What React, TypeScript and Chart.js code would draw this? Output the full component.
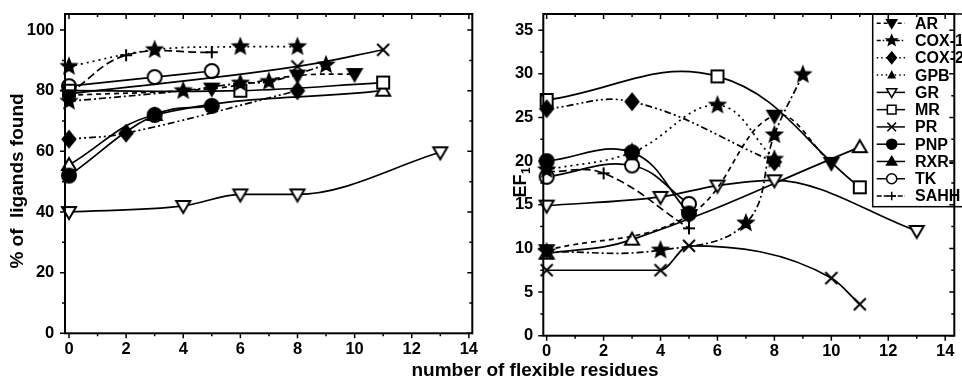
import React, { useEffect, useRef } from 'react';
import { Chart, registerables } from 'chart.js';

Chart.register(...registerables);

const FONT = '"Liberation Sans", Arial, Helvetica, sans-serif';

// ---------- series names ----------
const SERIES = ['AR', 'COX-1', 'COX-2', 'GPB', 'GR', 'MR', 'PR', 'PNP', 'RXR-', 'TK', 'SAHH'];

// ---------- x values: number of flexible residues ----------
const AR_X = [0, 5, 8, 10];
const COX1_X_PCT = [0, 4, 6, 7, 9];
const COX1_X_EF = [0, 4, 7, 8, 9];
const COX2_X_PCT = [0, 2, 8];
const COX2_X_EF = [0, 3, 8];
const GPB_X = [0, 3, 6, 8];
const GR_X = [0, 4, 6, 8, 13];
const MR_X = [0, 6, 11];
const PR_X_PCT = [0, 8, 11];
const PR_X_EF = [0, 4, 5, 10, 11];
const PNP_X = [0, 3, 5];
const RXR_X = [0, 3, 11];
const TK_X = [0, 3, 5];
const SAHH_X = [0, 2, 5];

// ---------- left panel: % of ligands found ----------
const AR_PCT = [78.5, 80.7, 85, 85.5];
const COX1_PCT = [76.5, 80, 82.5, 83, 88.5];
const COX2_PCT = [64, 66, 80];
const GPB_PCT = [88, 93.5, 94.5, 94.5];
const GR_PCT = [40, 42, 45.8, 45.8, 59.7];
const MR_PCT = [80, 80, 82.7];
const PR_PCT = [79, 88, 93.5];
const PNP_PCT = [52, 72, 75];
const RXR_PCT = [55.5, 72, 80];
const TK_PCT = [81.5, 84.5, 86.5];
const SAHH_PCT = [79, 91.7, 92.7];

// ---------- right panel: EF1 ----------
const AR_EF = [9.8, 13.8, 25.2, 19.8];
const COX1_EF = [9.6, 9.8, 12.9, 23, 29.9];
const COX2_EF = [26, 26.8, 19.9];
const GPB_EF = [19, 21, 26.4, 20.2];
const GR_EF = [14.9, 15.9, 17.2, 17.8, 12];
const MR_EF = [27, 29.7, 17];
const PR_EF = [7.5, 7.5, 10.3, 6.6, 3.6];
const PNP_EF = [20, 21, 14];
const RXR_EF = [9.4, 11, 21.6];
const TK_EF = [18.2, 19.5, 15.1];
const SAHH_EF = [18.8, 18.6, 12.3];

// ---------- tick labels ----------
const X_TICKS = [0, 2, 4, 6, 8, 10, 12, 14];
const PCT_TICKS = [0, 20, 40, 60, 80, 100];
const EF_TICKS = [0, 5, 10, 15, 20, 25, 30, 35];

const PCT_SETS: [number[], number[]][] = [
  [AR_X, AR_PCT], [COX1_X_PCT, COX1_PCT], [COX2_X_PCT, COX2_PCT], [GPB_X, GPB_PCT],
  [GR_X, GR_PCT], [MR_X, MR_PCT], [PR_X_PCT, PR_PCT], [PNP_X, PNP_PCT],
  [RXR_X, RXR_PCT], [TK_X, TK_PCT], [SAHH_X, SAHH_PCT],
];
const EF_SETS: [number[], number[]][] = [
  [AR_X, AR_EF], [COX1_X_EF, COX1_EF], [COX2_X_EF, COX2_EF], [GPB_X, GPB_EF],
  [GR_X, GR_EF], [MR_X, MR_EF], [PR_X_EF, PR_EF], [PNP_X, PNP_EF],
  [RXR_X, RXR_EF], [TK_X, TK_EF], [SAHH_X, SAHH_EF],
];

type Kind = 'triDown' | 'triUp' | 'smallTri' | 'star' | 'diamond' | 'square' | 'cross' | 'circle' | 'plus';
interface Style { dash: number[]; legendDash: number[]; kind: Kind; filled: boolean; legendKind?: Kind; legendFilled?: boolean; mono?: boolean; }

const STYLES: Style[] = [
  { dash: [5, 4], legendDash: [4, 3], kind: 'triDown', filled: true },
  { dash: [7, 3, 2, 3], legendDash: [4, 2, 1.5, 2], kind: 'star', filled: true },
  { dash: [7, 3, 2, 3, 2, 3], legendDash: [1.5, 3], kind: 'diamond', filled: true },
  { dash: [2, 4], legendDash: [1.5, 3], kind: 'star', filled: true, legendKind: 'smallTri' },
  { dash: [], legendDash: [], kind: 'triDown', filled: false, mono: true },
  { dash: [], legendDash: [], kind: 'square', filled: false },
  { dash: [], legendDash: [], kind: 'cross', filled: false, mono: true },
  { dash: [], legendDash: [], kind: 'circle', filled: true },
  { dash: [], legendDash: [], kind: 'triUp', filled: false, legendFilled: true },
  { dash: [], legendDash: [], kind: 'circle', filled: false },
  { dash: [8, 4], legendDash: [5, 2], kind: 'plus', filled: false },
];

function drawMarker(ctx: CanvasRenderingContext2D, kind: Kind, filled: boolean, cx: number, cy: number, s: number) {
  ctx.save();
  ctx.setLineDash([]);
  ctx.beginPath();
  ctx.lineWidth = s < 1 ? 1.5 : 2;
  ctx.strokeStyle = '#000';
  ctx.fillStyle = filled ? '#000' : '#fff';
  ctx.lineJoin = 'miter';
  let strokeOnly = false;
  switch (kind) {
    case 'triDown':
      ctx.moveTo(cx - 7 * s, cy - 5 * s); ctx.lineTo(cx + 7 * s, cy - 5 * s); ctx.lineTo(cx, cy + 7 * s); ctx.closePath();
      break;
    case 'triUp':
      ctx.moveTo(cx - 7 * s, cy + 5 * s); ctx.lineTo(cx + 7 * s, cy + 5 * s); ctx.lineTo(cx, cy - 7 * s); ctx.closePath();
      break;
    case 'smallTri':
      ctx.moveTo(cx - 4.5 * s, cy + 3.5 * s); ctx.lineTo(cx + 4.5 * s, cy + 3.5 * s); ctx.lineTo(cx, cy - 4.5 * s); ctx.closePath();
      break;
    case 'star':
      for (let i = 0; i < 10; i++) {
        const r = i % 2 === 0 ? 7.5 * s : 3.3 * s;
        const ang = -Math.PI / 2 + (i * Math.PI) / 5;
        const px = cx + r * Math.cos(ang);
        const py = cy + r * Math.sin(ang);
        if (i === 0) ctx.moveTo(px, py); else ctx.lineTo(px, py);
      }
      ctx.closePath();
      break;
    case 'diamond':
      ctx.moveTo(cx, cy - 8 * s); ctx.lineTo(cx + 6.5 * s, cy); ctx.lineTo(cx, cy + 8 * s); ctx.lineTo(cx - 6.5 * s, cy); ctx.closePath();
      break;
    case 'square':
      ctx.rect(cx - 6 * s, cy - 6 * s, 12 * s, 12 * s);
      break;
    case 'circle':
      ctx.arc(cx, cy, 7 * s, 0, Math.PI * 2);
      break;
    case 'cross':
      ctx.moveTo(cx - 6 * s, cy - 6 * s); ctx.lineTo(cx + 6 * s, cy + 6 * s);
      ctx.moveTo(cx + 6 * s, cy - 6 * s); ctx.lineTo(cx - 6 * s, cy + 6 * s);
      strokeOnly = true;
      break;
    case 'plus':
      ctx.moveTo(cx - 6 * s, cy); ctx.lineTo(cx + 6 * s, cy);
      ctx.moveTo(cx, cy - 6 * s); ctx.lineTo(cx, cy + 6 * s);
      strokeOnly = true;
      break;
  }
  if (!strokeOnly) ctx.fill();
  ctx.stroke();
  ctx.restore();
}

function markerCanvas(kind: Kind, filled: boolean) {
  const c = document.createElement('canvas');
  c.width = 22;
  c.height = 22;
  const ctx = c.getContext('2d');
  if (ctx) drawMarker(ctx, kind, filled, 11, 11, 1);
  return c;
}

const minorOf = (t: number[]) => t.slice(1).map((v, i) => (v + t[i]) / 2);

interface Geom { left: number; right: number; top: number; xH: number; xMin: number; xMax: number; yMin: number; yMax: number; yPad: number; }

const GEOM_PCT: Geom = { left: 65, right: 7.3, top: 14, xH: 46.7, xMin: -0.14, xMax: 14.12, yMin: 0, yMax: 105.3, yPad: 5.7 };
const GEOM_EF: Geom = { left: 63.3, right: 3, top: 14, xH: 44.3, xMin: -0.118, xMax: 14.32, yMin: 0, yMax: 36.85, yPad: 5 };

function overlayPlugin(kind: 'pct' | 'ef') {
  const yTicks = kind === 'pct' ? PCT_TICKS : EF_TICKS;
  return {
    id: 'overlay_' + kind,
    afterDatasetsDraw(chart: any) {
      const ctx: CanvasRenderingContext2D = chart.ctx;
      const a = chart.chartArea;
      const xs = chart.scales.x;
      const ys = chart.scales.y;
      ctx.save();

      if (kind === 'ef') {
        // legend box
        const L = { left: 392.7, top: 14, right: 530, bottom: 206.7, y0: 23.3, step: 17.27, l0: 396.7, l1: 425, mx: 411.7, tx: 435 };
        ctx.fillStyle = '#fff';
        ctx.fillRect(L.left, L.top, L.right - L.left, L.bottom - L.top);
        ctx.strokeStyle = '#000';
        ctx.lineWidth = 1.5;
        ctx.setLineDash([]);
        ctx.strokeRect(L.left, L.top, L.right - L.left, L.bottom - L.top);
        ctx.font = `bold 16px ${FONT}`;
        ctx.textBaseline = 'middle';
        ctx.textAlign = 'left';
        SERIES.forEach((name, i) => {
          const st = STYLES[i];
          const y = L.y0 + i * L.step;
          ctx.beginPath();
          ctx.setLineDash(st.legendDash);
          ctx.lineWidth = 1.5;
          ctx.moveTo(L.l0, y);
          ctx.lineTo(L.l1, y);
          ctx.stroke();
          ctx.setLineDash([]);
          drawMarker(ctx, st.legendKind ?? st.kind, st.legendFilled ?? st.filled, L.mx, y, 0.72);
          ctx.fillStyle = '#000';
          ctx.fillText(name, L.tx, y + 1);
        });
      }

      // frame
      ctx.setLineDash([]);
      ctx.strokeStyle = '#000';
      ctx.lineWidth = 2;
      ctx.strokeRect(a.left, a.top, a.right - a.left, a.bottom - a.top);

      // tick marks
      ctx.lineWidth = 1.5;
      ctx.beginPath();
      X_TICKS.forEach((v) => {
        const px = xs.getPixelForValue(v);
        ctx.moveTo(px, a.bottom); ctx.lineTo(px, a.bottom + 5);
        ctx.moveTo(px, a.top); ctx.lineTo(px, a.top + 5);
      });
      minorOf(X_TICKS).forEach((v) => {
        const px = xs.getPixelForValue(v);
        ctx.moveTo(px, a.bottom); ctx.lineTo(px, a.bottom + 3);
        ctx.moveTo(px, a.top); ctx.lineTo(px, a.top + 3);
      });
      yTicks.forEach((v) => {
        const py = ys.getPixelForValue(v);
        ctx.moveTo(a.left - 5, py); ctx.lineTo(a.left, py);
        ctx.moveTo(a.right - 5, py); ctx.lineTo(a.right, py);
      });
      minorOf(yTicks).forEach((v) => {
        const py = ys.getPixelForValue(v);
        ctx.moveTo(a.left - 3, py); ctx.lineTo(a.left, py);
        ctx.moveTo(a.right - 3, py); ctx.lineTo(a.right, py);
      });
      ctx.stroke();

      // y axis titles
      ctx.fillStyle = '#000';
      if (kind === 'pct') {
        ctx.save();
        ctx.translate(23, 181);
        ctx.rotate(-Math.PI / 2);
        ctx.font = `bold 19px ${FONT}`;
        ctx.textAlign = 'center';
        ctx.textBaseline = 'alphabetic';
        ctx.fillText('% of  ligands found', 0, 0);
        ctx.restore();
      } else {
        ctx.save();
        ctx.translate(45.5, 197.5);
        ctx.rotate(-Math.PI / 2);
        ctx.font = `bold 18px ${FONT}`;
        ctx.textAlign = 'left';
        ctx.textBaseline = 'alphabetic';
        ctx.fillText('EF', 0, 0);
        const w = ctx.measureText('EF').width;
        ctx.font = `bold 12px ${FONT}`;
        ctx.fillText('1', w + 0.5, 4);
        ctx.restore();
      }
      ctx.restore();
    },
  };
}

function buildConfig(kind: 'pct' | 'ef'): any {
  const sets = kind === 'pct' ? PCT_SETS : EF_SETS;
  const g = kind === 'pct' ? GEOM_PCT : GEOM_EF;
  const yTicks = kind === 'pct' ? PCT_TICKS : EF_TICKS;
  const tickFont = { family: FONT, size: 16.5, weight: 'bold' as const };
  const datasets = sets.map(([xs, ys], i) => {
    const st = STYLES[i];
    return {
      label: SERIES[i],
      data: xs.map((x, j) => ({ x, y: ys[j] })),
      borderColor: '#000',
      backgroundColor: '#000',
      borderWidth: 1.7,
      borderDash: st.dash,
      pointStyle: markerCanvas(st.kind, st.filled),
      pointRadius: 6,
      pointHoverRadius: 6,
      tension: 0.4,
      cubicInterpolationMode: st.mono ? 'monotone' : 'default',
      fill: false,
      clip: false,
    };
  });
  return {
    type: 'line',
    data: { datasets },
    plugins: [overlayPlugin(kind)],
    options: {
      animation: false,
      responsive: false,
      maintainAspectRatio: false,
      events: [],
      layout: { padding: { top: g.top, right: g.right, left: 0, bottom: 0 } },
      plugins: { legend: { display: false }, tooltip: { enabled: false }, title: { display: false } },
      scales: {
        x: {
          type: 'linear',
          min: g.xMin,
          max: g.xMax,
          afterBuildTicks: (s: any) => { s.ticks = X_TICKS.map((v) => ({ value: v })); },
          afterFit: (s: any) => { s.height = g.xH; s.paddingLeft = 0; s.paddingRight = 0; },
          grid: { display: false, drawTicks: true, tickLength: 5 },
          border: { display: false },
          ticks: { font: tickFont, color: '#000', padding: 1, maxRotation: 0, minRotation: 0, autoSkip: false },
        },
        y: {
          type: 'linear',
          min: g.yMin,
          max: g.yMax,
          afterBuildTicks: (s: any) => { s.ticks = yTicks.map((v) => ({ value: v })); },
          afterFit: (s: any) => { s.width = g.left; s.paddingTop = 0; s.paddingBottom = 0; },
          grid: { display: false, drawTicks: true, tickLength: 5 },
          border: { display: false },
          ticks: { font: tickFont, color: '#000', padding: g.yPad, autoSkip: false },
        },
      },
    },
  };
}

export default function App() {
  const leftRef = useRef<HTMLCanvasElement>(null);
  const rightRef = useRef<HTMLCanvasElement>(null);
  useEffect(() => {
    if (!leftRef.current || !rightRef.current) return;
    const left = new Chart(leftRef.current, buildConfig('pct'));
    const right = new Chart(rightRef.current, buildConfig('ef'));
    return () => {
      left.destroy();
      right.destroy();
    };
  }, []);
  return (
    <div style={{ position: 'fixed', left: 0, top: 0, width: 962, height: 380, background: '#fff', overflow: 'hidden' }}>
      <canvas ref={leftRef} width={480} height={380} style={{ position: 'absolute', left: 0, top: 0, width: 480, height: 380 }} />
      <canvas ref={rightRef} width={482} height={380} style={{ position: 'absolute', left: 480, top: 0, width: 482, height: 380 }} />
      <div
        style={{
          position: 'absolute',
          left: 535,
          top: 360.4,
          transform: 'translateX(-50%)',
          whiteSpace: 'nowrap',
          font: `bold 19px ${FONT}`,
          lineHeight: '19px',
          color: '#000',
        }}
      >
        number of flexible residues
      </div>
    </div>
  );
}
